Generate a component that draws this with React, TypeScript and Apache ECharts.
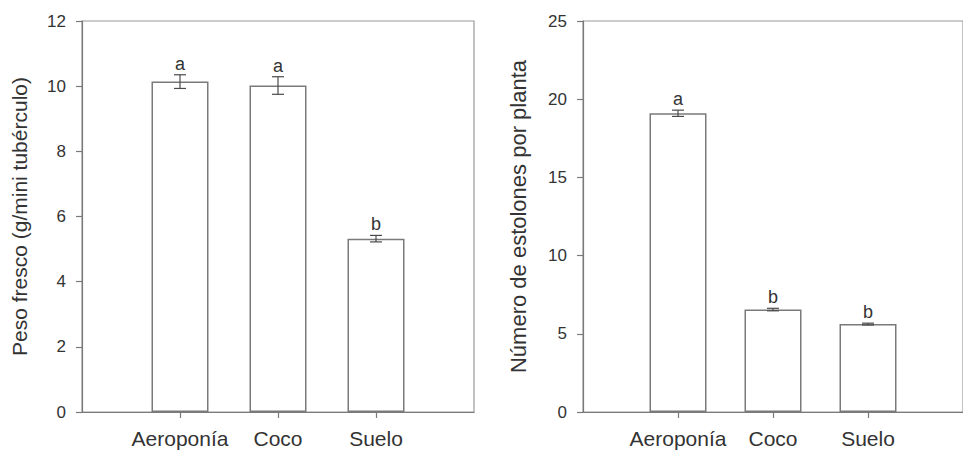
import React, { useEffect, useRef } from "react";
import * as echarts from "echarts";

const categories = ["Aeroponía", "Coco", "Suelo"];

const pesoFresco = [10.14, 10.02, 5.32];
const pesoFrescoErr = [0.21, 0.27, 0.1];
const pesoLetters = ["a", "a", "b"];
const pesoTicks = [0, 2, 4, 6, 8, 10, 12];

const estolones = [19.1, 6.55, 5.62];
const estolonesErr = [0.2, 0.08, 0.06];
const estolonesLetters = ["a", "b", "b"];
const estolonesTicks = [0, 5, 10, 15, 20, 25];

const FONT = '"Liberation Sans", Arial, Helvetica, sans-serif';
const TEXT = "#333333";
const AXIS = "#7a7a7a";

const axisData = ["", ...categories, " "];

function xAxisFor(gridIndex: number) {
  return {
    type: "category",
    gridIndex,
    data: axisData,
    boundaryGap: false,
    axisLine: { show: true, onZero: false, lineStyle: { color: AXIS, width: 1.2 } },
    axisTick: {
      show: true,
      length: 6,
      inside: false,
      interval: (i: number) => i > 0 && i < axisData.length - 1,
      lineStyle: { color: AXIS, width: 1.2 },
    },
    axisLabel: {
      interval: (i: number) => i > 0 && i < axisData.length - 1,
      color: TEXT,
      fontFamily: FONT,
      fontSize: 21,
      margin: 16,
    },
    splitLine: { show: false },
  };
}

function yAxisFor(gridIndex: number, ticks: number[], name: string, gap: number, size: number) {
  return {
    type: "value",
    gridIndex,
    min: ticks[0],
    max: ticks[ticks.length - 1],
    interval: ticks[1] - ticks[0],
    name,
    nameLocation: "middle",
    nameGap: gap,
    nameTextStyle: { color: TEXT, fontFamily: FONT, fontSize: size },
    axisLine: { show: true, onZero: false, lineStyle: { color: AXIS, width: 1.2 } },
    axisTick: { show: true, length: 6, inside: false, lineStyle: { color: AXIS, width: 1.2 } },
    axisLabel: { color: TEXT, fontFamily: FONT, fontSize: 17, margin: 16 },
    splitLine: { show: false },
  };
}

function barSeries(idx: number, values: number[]) {
  return {
    type: "bar",
    xAxisIndex: idx,
    yAxisIndex: idx,
    data: values.map((v, i) => [i + 1, v]),
    barWidth: 57,
    itemStyle: { color: "#ffffff", borderColor: AXIS, borderWidth: 1.5 },
    z: 2,
  };
}

function errSeries(idx: number, values: number[], errs: number[], letters: string[]) {
  return {
    type: "custom",
    xAxisIndex: idx,
    yAxisIndex: idx,
    z: 5,
    data: values.map((v, i) => [i + 1, v, errs[i]]),
    renderItem: (params: any, api: any) => {
      const x = api.value(0);
      const v = api.value(1);
      const e = api.value(2);
      const top = api.coord([x, v + e]);
      const bot = api.coord([x, v - e]);
      const hw = 6;
      const st = { stroke: "#4a4a4a", lineWidth: 1.2 };
      return {
        type: "group",
        children: [
          { type: "line", shape: { x1: top[0], y1: top[1], x2: bot[0], y2: bot[1] }, style: st },
          { type: "line", shape: { x1: top[0] - hw, y1: top[1], x2: top[0] + hw, y2: top[1] }, style: st },
          { type: "line", shape: { x1: bot[0] - hw, y1: bot[1], x2: bot[0] + hw, y2: bot[1] }, style: st },
          {
            type: "text",
            x: top[0],
            y: top[1] - 2,
            style: {
              text: letters[params.dataIndex],
              fill: TEXT,
              fontFamily: FONT,
              fontSize: 18,
              align: "center",
              verticalAlign: "bottom",
            },
          },
        ],
      };
    },
  };
}

export default function App() {
  const ref = useRef<HTMLDivElement>(null);
  useEffect(() => {
    if (!ref.current) return;
    const chart = echarts.init(ref.current, undefined, { renderer: "svg" });
    chart.setOption({
      animation: false,
      backgroundColor: "#ffffff",
      grid: [
        { left: 82, top: 21, width: 392, height: 391, show: true, borderColor: "#9a9a9a", borderWidth: 1.2, backgroundColor: "transparent" },
        { left: 583, top: 21, width: 392, height: 391, show: true, borderColor: "#9a9a9a", borderWidth: 1.2, backgroundColor: "transparent" },
      ],
      xAxis: [xAxisFor(0), xAxisFor(1)],
      yAxis: [
        yAxisFor(0, pesoTicks, "Peso fresco (g/mini tubérculo)", 52, 21),
        yAxisFor(1, estolonesTicks, "Número de estolones por planta", 54, 22),
      ],
      series: [
        barSeries(0, pesoFresco),
        errSeries(0, pesoFresco, pesoFrescoErr, pesoLetters),
        barSeries(1, estolones),
        errSeries(1, estolones, estolonesErr, estolonesLetters),
      ],
    });
    return () => chart.dispose();
  }, []);
  return (
    <div
      ref={ref}
      style={{ position: "fixed", left: 0, top: 0, width: 963, height: 451, background: "#fff" }}
    />
  );
}
